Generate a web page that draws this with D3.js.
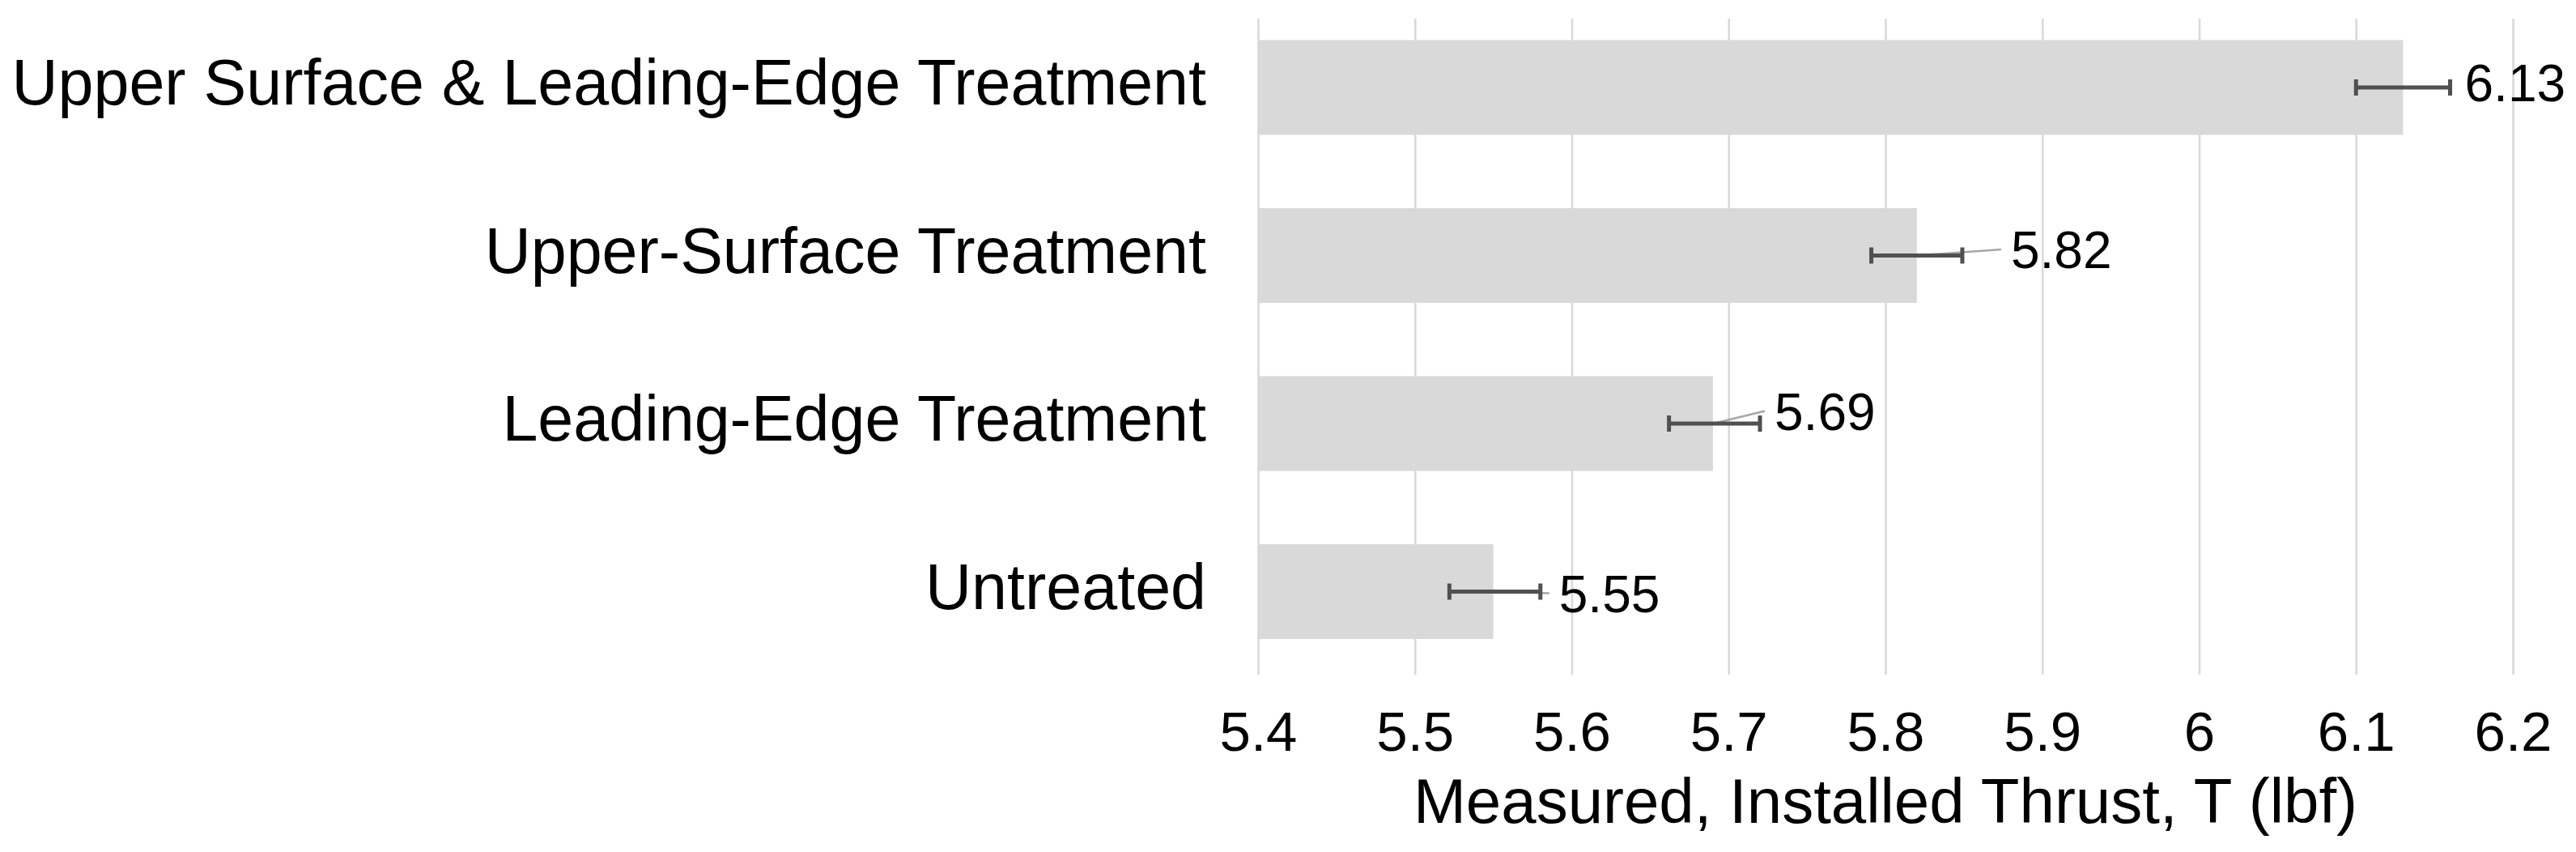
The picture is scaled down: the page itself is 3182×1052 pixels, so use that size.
<!DOCTYPE html>
<html>
<head>
<meta charset="utf-8">
<script src="https://cdn.jsdelivr.net/npm/d3@7"></script>
<style>
  html, body { margin: 0; padding: 0; background: #ffffff; }
  svg { display: block; font-family: "Liberation Sans", Arial, Helvetica, sans-serif; }
</style>
</head>
<body>
<svg id="chart" width="3182" height="1052"></svg>
<script>
// ---- data ----
const categories = [
  "Upper Surface & Leading-Edge Treatment",
  "Upper-Surface Treatment",
  "Leading-Edge Treatment",
  "Untreated"
];
const thrustValues = [6.13, 5.82, 5.69, 5.55];
const errorMinus = [0.03, 0.029, 0.028, 0.028];
const errorPlus = [0.03, 0.029, 0.03, 0.03];
const valueLabels = ["6.13", "5.82", "5.69", "5.55"];
const tickValues = [5.4, 5.5, 5.6, 5.7, 5.8, 5.9, 6.0, 6.1, 6.2];
const axisTitle = "Measured, Installed Thrust, T (lbf)";

// ---- layout ----
const W = 3182, H = 1052;
const plot = { left: 1554, right: 3104, gridTop: 23, gridBottom: 833 };
const labelNudge = [[18, -6], [60, -7.5], [18, -15.5], [23, 2]];

const svg = d3.select("#chart");
svg.append("rect").attr("width", W).attr("height", H).attr("fill", "#fff");

const x = d3.scaleLinear().domain([5.4, 6.2]).range([plot.left, plot.right]);
const y = d3.scaleBand().domain(categories).range([4.25, 834.25])
  .paddingInner(0.436).paddingOuter(0.218);

// gridlines via axis
const gridAxis = d3.axisBottom(x).tickValues(tickValues)
  .tickSize(-(plot.gridBottom - plot.gridTop)).tickFormat("");
const gg = svg.append("g").attr("transform", `translate(0,${plot.gridBottom})`).call(gridAxis);
gg.select(".domain").remove();
gg.selectAll(".tick line").attr("stroke", "#d9d9d9").attr("stroke-width", 2.6);

// tick labels
const labAxis = d3.axisBottom(x).tickValues(tickValues).tickSize(0)
  .tickFormat(d => String(+d.toFixed(2)));
const lg = svg.append("g").attr("transform", `translate(0,0)`).call(labAxis);
lg.select(".domain").remove();
lg.selectAll(".tick text")
  .attr("y", 927).attr("dy", null)
  .attr("font-size", 69).attr("fill", "#000")
  .attr("font-family", "'Liberation Sans', Arial, Helvetica, sans-serif");

// bars
const data = categories.map((c, i) => ({
  cat: c, v: thrustValues[i], lo: thrustValues[i] - errorMinus[i], hi: thrustValues[i] + errorPlus[i],
  label: valueLabels[i], i
}));

svg.append("g").selectAll("rect").data(data).join("rect")
  .attr("x", x(5.4))
  .attr("y", d => y(d.cat))
  .attr("width", d => x(d.v) - x(5.4))
  .attr("height", y.bandwidth())
  .attr("fill", "#d9d9d9");

// leader lines
const cy = d => y(d.cat) + y.bandwidth() / 2;
svg.append("g").selectAll("line").data(data.filter(d => d.i !== 0)).join("line")
  .attr("x1", d => x(d.v))
  .attr("y1", d => cy(d))
  .attr("x2", d => x(d.hi) + labelNudge[d.i][0] - 12)
  .attr("y2", d => cy(d) + labelNudge[d.i][1])
  .attr("stroke", "#a6a6a6").attr("stroke-width", 2.5);

// error bars
const eg = svg.append("g").attr("stroke", "#505050").attr("stroke-width", 5);
data.forEach(d => {
  const yy = cy(d);
  eg.append("line").attr("x1", x(d.lo)).attr("x2", x(d.hi)).attr("y1", yy).attr("y2", yy);
  eg.append("line").attr("x1", x(d.lo)).attr("x2", x(d.lo)).attr("y1", yy - 10).attr("y2", yy + 10);
  eg.append("line").attr("x1", x(d.hi)).attr("x2", x(d.hi)).attr("y1", yy - 10).attr("y2", yy + 10);
});

// value labels
svg.append("g").selectAll("text").data(data).join("text")
  .attr("x", d => x(d.hi) + labelNudge[d.i][0])
  .attr("y", d => cy(d) + labelNudge[d.i][1] + 23)
  .attr("font-size", 64).attr("fill", "#000")
  .text(d => d.label);

// category labels
svg.append("g").selectAll("text").data(data).join("text")
  .attr("x", 1490)
  .attr("y", d => cy(d) + 21)
  .attr("text-anchor", "end")
  .attr("font-size", 79).attr("fill", "#000")
  .text(d => d.cat);

// axis title
svg.append("text")
  .attr("x", (plot.left + plot.right) / 2)
  .attr("y", 1016)
  .attr("text-anchor", "middle")
  .attr("font-size", 78).attr("fill", "#000")
  .text(axisTitle);
</script>
</body>
</html>
